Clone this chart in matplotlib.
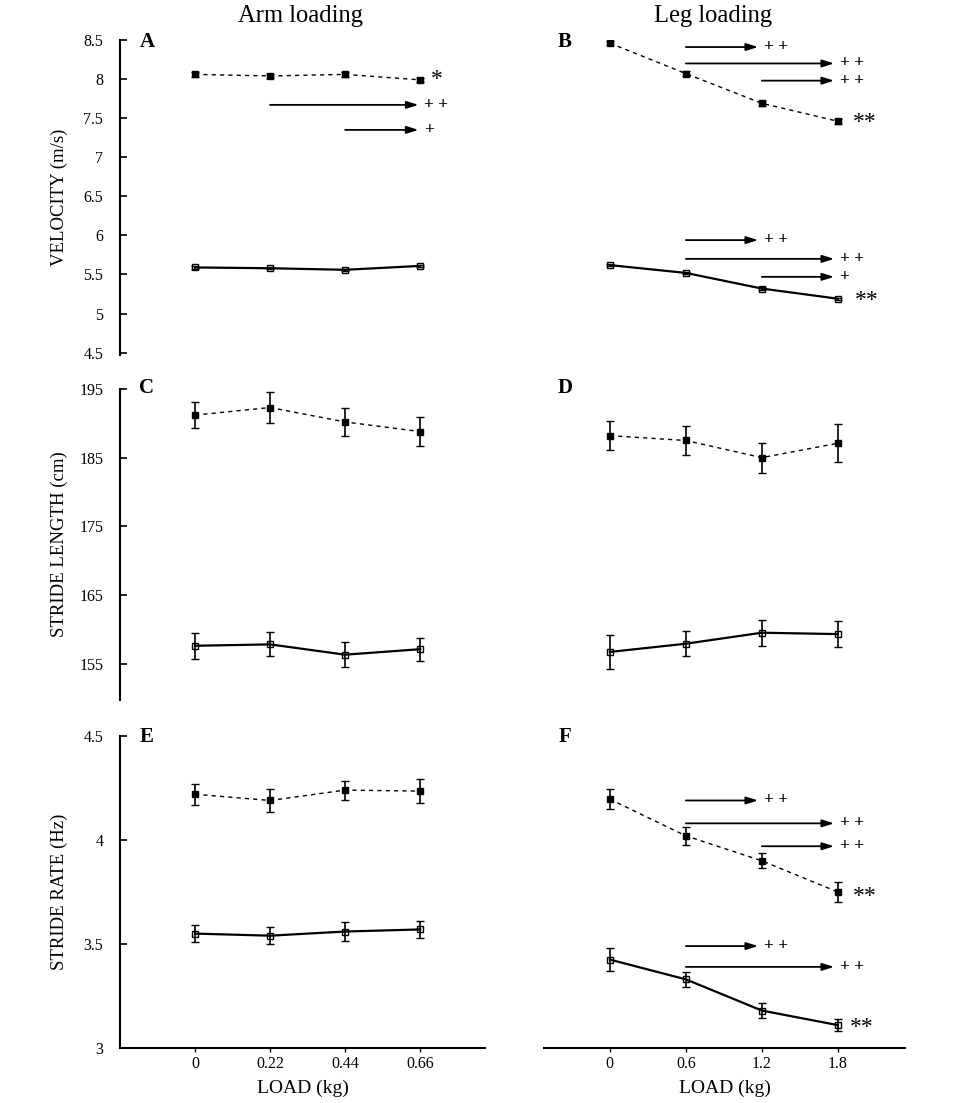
import matplotlib
matplotlib.use("Agg")
import matplotlib.pyplot as plt

plt.rcParams["font.family"] = ["Liberation Serif", "DejaVu Serif"]

# --- data ---
arm_load = [0, 0.22, 0.44, 0.66]
leg_load = [0, 0.6, 1.2, 1.8]

# velocity (m/s): fast = filled squares / dashed, slow = open squares / solid
arm_vel_fast = [8.06, 8.04, 8.06, 7.99]
arm_vel_fast_err = [0.03, 0.03, 0.03, 0.03]
arm_vel_slow = [5.59, 5.58, 5.56, 5.61]
arm_vel_slow_err = [0.015, 0.015, 0.015, 0.015]
leg_vel_fast = [8.46, 8.07, 7.69, 7.46]
leg_vel_fast_err = [0.03, 0.03, 0.03, 0.03]
leg_vel_slow = [5.62, 5.52, 5.32, 5.19]
leg_vel_slow_err = [0.015, 0.015, 0.015, 0.015]

# stride length (cm)
arm_len_fast = [191.2, 192.3, 190.2, 188.8]
arm_len_fast_err = [1.9, 2.2, 2.1, 2.1]
arm_len_slow = [157.6, 157.8, 156.3, 157.1]
arm_len_slow_err = [1.9, 1.75, 1.8, 1.7]
leg_len_fast = [188.2, 187.5, 185.0, 187.1]
leg_len_fast_err = [2.1, 2.1, 2.2, 2.8]
leg_len_slow = [156.7, 157.9, 159.5, 159.3]
leg_len_slow_err = [2.5, 1.8, 1.9, 1.9]

# stride rate (Hz)
arm_rate_fast = [4.22, 4.19, 4.24, 4.235]
arm_rate_fast_err = [0.05, 0.057, 0.046, 0.058]
arm_rate_slow = [3.55, 3.54, 3.56, 3.57]
arm_rate_slow_err = [0.042, 0.04, 0.044, 0.042]
leg_rate_fast = [4.196, 4.02, 3.90, 3.75]
leg_rate_fast_err = [0.049, 0.044, 0.036, 0.046]
leg_rate_slow = [3.425, 3.33, 3.18, 3.11]
leg_rate_slow_err = [0.054, 0.037, 0.036, 0.03]

# significance arrows: (start load, end load, y, label)
arrows_A = [(0.22, 0.655, 7.67, "+ +"), (0.44, 0.655, 7.35, "+")]
arrows_B = [(0.6, 1.17, 8.41, "+ +"), (0.6, 1.77, 8.20, "+ +"), (1.2, 1.77, 7.98, "+ +"),
            (0.6, 1.17, 5.94, "+ +"), (0.6, 1.77, 5.70, "+ +"), (1.2, 1.77, 5.47, "+")]
arrows_F = [(0.6, 1.17, 4.19, "+ +"), (0.6, 1.77, 4.08, "+ +"), (1.2, 1.77, 3.97, "+ +"),
            (0.6, 1.17, 3.49, "+ +"), (0.6, 1.77, 3.39, "+ +")]
# stars: (x, y, label)
stars_A = [(0.71, 7.99, "*")]
stars_B = [(2.01, 7.44, "**"), (2.03, 5.17, "**")]
stars_F = [(2.01, 3.73, "**"), (1.99, 3.10, "**")]

W, H = 960, 1103
fig = plt.figure(figsize=(W / 100, H / 100), dpi=100)


def box(x0, x1, ytop, ybot):
    return [x0 / W, 1 - ybot / H, (x1 - x0) / W, (ybot - ytop) / H]


rows = [(40, 355), (389, 700), (736, 1048)]
cols = [(120, 485), (544, 905)]
ylims = [(4.47, 8.5), (149.7, 195), (3.0, 4.5)]
yticks = [[4.5, 5, 5.5, 6, 6.5, 7, 7.5, 8, 8.5],
          [155, 165, 175, 185, 195],
          [3, 3.5, 4, 4.5]]
ytick_labels = [["4.5", "5", "5.5", "6", "6.5", "7", "7.5", "8", "8.5"],
                ["155", "165", "175", "185", "195"],
                ["3", "3.5", "4", "4.5"]]
ylabels = ["VELOCITY (m/s)", "STRIDE LENGTH (cm)", "STRIDE RATE (Hz)"]
letters = [["A", "B"], ["C", "D"], ["E", "F"]]

panels = [
    [(arm_load, arm_vel_fast, arm_vel_fast_err, arm_vel_slow, arm_vel_slow_err),
     (leg_load, leg_vel_fast, leg_vel_fast_err, leg_vel_slow, leg_vel_slow_err)],
    [(arm_load, arm_len_fast, arm_len_fast_err, arm_len_slow, arm_len_slow_err),
     (leg_load, leg_len_fast, leg_len_fast_err, leg_len_slow, leg_len_slow_err)],
    [(arm_load, arm_rate_fast, arm_rate_fast_err, arm_rate_slow, arm_rate_slow_err),
     (leg_load, leg_rate_fast, leg_rate_fast_err, leg_rate_slow, leg_rate_slow_err)],
]
arrows = {(0, 0): arrows_A, (0, 1): arrows_B, (2, 1): arrows_F}
stars = {(0, 0): stars_A, (0, 1): stars_B, (2, 1): stars_F}

for r, (yt, yb) in enumerate(rows):
    for c, (x0, x1) in enumerate(cols):
        ax = fig.add_axes(box(x0, x1, yt, yb))
        ax.patch.set_alpha(0)
        load, fast, fast_err, slow, slow_err = panels[r][c]

        ax.errorbar(load, fast, yerr=fast_err, color="black", lw=1.0, ls=(0, (3, 3)),
                    marker="s", ms=5, mfc="black", mec="black",
                    elinewidth=1.2, capsize=3, capthick=1.0)
        ax.errorbar(load, slow, yerr=slow_err, color="black", lw=1.6, ls="-",
                    marker="s", ms=4.5, mfc="none", mec="black", mew=1.0,
                    elinewidth=1.2, capsize=3, capthick=1.0)

        for xs, xe, y, lab in arrows.get((r, c), []):
            ax.annotate("", xy=(xe, y), xytext=(xs, y),
                        arrowprops=dict(arrowstyle="-|>,head_length=0.7,head_width=0.22",
                                        color="black", lw=1.3, shrinkA=0, shrinkB=0))
            ax.annotate(lab, xy=(xe, y), xytext=(4, 0), textcoords="offset points",
                        ha="left", va="center", fontsize=12.5, fontweight="bold")
        for x, y, lab in stars.get((r, c), []):
            ax.text(x, y, lab, ha="center", va="center", fontsize=17)

        ax.set_ylim(*ylims[r])
        if c == 0:
            ax.set_xlim(-0.22, 0.85)
        else:
            ax.set_xlim(-0.52, 2.33)

        for s in ["top", "right"]:
            ax.spines[s].set_visible(False)
        ax.spines["left"].set_linewidth(1.5)
        ax.spines["bottom"].set_linewidth(1.5)

        if c == 0:
            ax.set_yticks(yticks[r])
            ax.set_yticklabels(ytick_labels[r], fontsize=11.5)
            ax.tick_params(axis="y", direction="in", length=5, width=1.2, pad=12)
            ax.set_ylabel(ylabels[r], fontsize=13.5)
            ax.yaxis.set_label_coords(-0.142, 0.5)
        else:
            ax.spines["left"].set_visible(False)
            ax.set_yticks([])

        if r == 2:
            ax.set_xticks(load)
            ax.set_xticklabels([f"{v:g}" for v in load], fontsize=11.5)
            ax.tick_params(axis="x", direction="out", length=3, width=1.0, pad=3)
            ax.set_xlabel("LOAD (kg)", fontsize=14, labelpad=5)
        else:
            ax.spines["bottom"].set_visible(False)
            ax.set_xticks([])

        lx = 147 if c == 0 else 565
        ly = [42, 388, 737][r]
        fig.text(lx / W, 1 - ly / H, letters[r][c], ha="center", va="center",
                 fontsize=15, fontweight="bold")

fig.text(300 / W, 1 - 16 / H, "Arm loading", ha="center", va="center", fontsize=17.7)
fig.text(713 / W, 1 - 16 / H, "Leg loading", ha="center", va="center", fontsize=17.7)

fig.savefig("out.png", dpi=100, transparent=True)
